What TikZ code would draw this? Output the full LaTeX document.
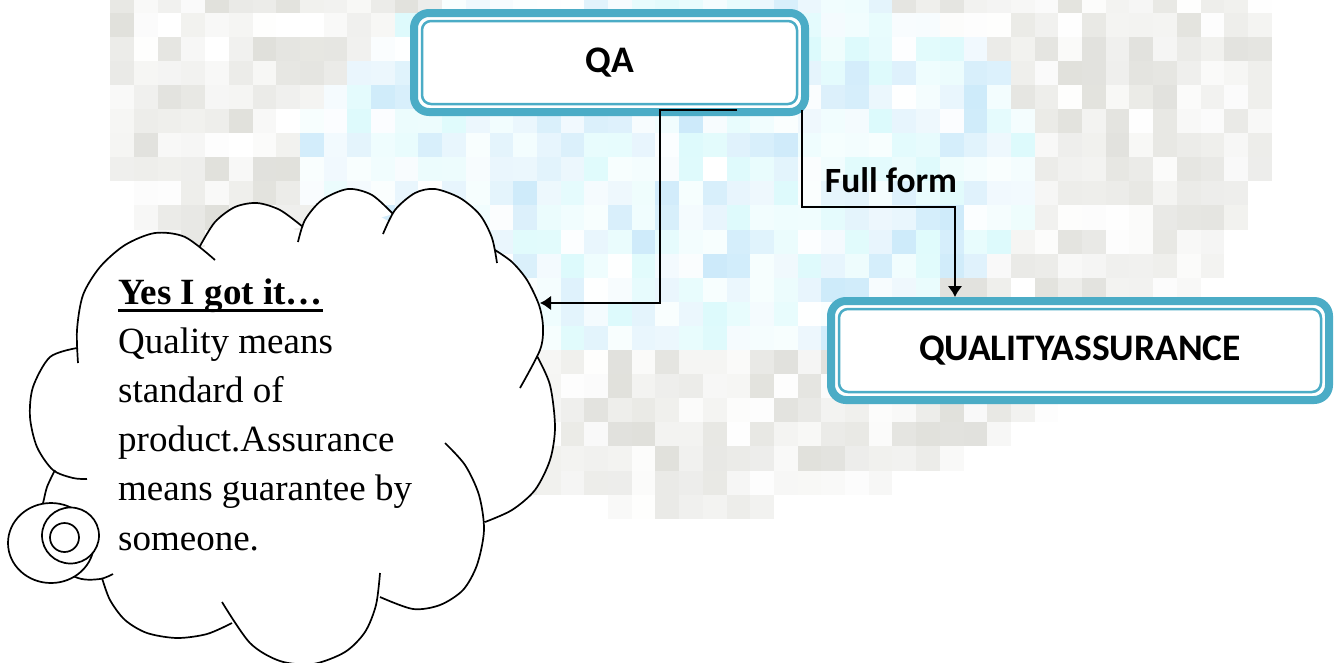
\documentclass[tikz,border=0pt]{standalone}
\usepackage{fontspec}
\setmainfont{Liberation Serif}
\newfontfamily\boxfont{Carlito}
\usepackage{tikz}
\usetikzlibrary{arrows.meta}

\definecolor{frame}{RGB}{75,172,198}
\definecolor{mosblue}{RGB}{204,234,250}
\definecolor{moscyan}{RGB}{220,250,252}
\definecolor{mosgray}{RGB}{224,224,219}
\newcommand\lineunder[1]{\setbox0\hbox{#1}\rlap{\vrule width\wd0 height -4.5pt depth 7.5pt}\box0}

\begin{document}
\begin{tikzpicture}[x=1pt,y=-1pt,
	titlebox/.style={draw=frame,line width=8pt,rounded corners=15pt,fill=white,
		inner sep=0pt,outer sep=0pt,minimum height=99pt,
		font=\boxfont\bfseries\fontsize{37.5}{44}\selectfont},
	boxinner/.style={draw=frame,line width=2.5pt,rounded corners=9pt},
	link/.style={line width=2.2pt,-{Latex[length=11pt,width=15pt]}},
	cloudline/.style={line width=1.7pt},
	formlabel/.style={inner sep=0pt,font=\boxfont\bfseries\fontsize{35.5}{42}\selectfont},
	cloudtext/.style={inner sep=0pt,align=left,font=\fontsize{37}{49.2}\selectfont}]
	\useasboundingbox (0,0) rectangle (1335,662);
	\clip (0,0) rectangle (1335,662);
%	\draw[help lines] (0,0) grid[step=100pt] (1335,662);

	% faded mosaic behind everything
	\pgfmathsetseed{11}
	\foreach \i in {0,...,54}{
		\foreach \j in {0,...,21}{
			\pgfmathsetmacro\cx{27.35+23.7*\i}
			\pgfmathsetmacro\cy{0.55+24.1*\j}
			\pgfmathsetmacro\ox{(\cx-690)/585}
			\pgfmathsetmacro\oy{(\cy-70)/440}
			\pgfmathsetmacro\bx{(\cx-670)/370}
			\pgfmathsetmacro\by{(\cy-160)/200}
			\pgfmathtruncatemacro\inside{\ox*\ox+\oy*\oy<1}
			\pgfmathtruncatemacro\core{\bx*\bx+\by*\by<1}
			\pgfmathtruncatemacro\tint{rnd<0.5}
			\pgfmathtruncatemacro\pct{100*rnd}
			\ifnum\inside=1
				\ifnum\core=1
					\ifnum\tint=1
						\fill[mosblue!\pct!white] (\cx-11.85,\cy-12.05) rectangle +(23.7,24.1);
					\else
						\fill[moscyan!\pct!white] (\cx-11.85,\cy-12.05) rectangle +(23.7,24.1);
					\fi
				\else
					\fill[mosgray!\pct!white] (\cx-11.85,\cy-12.05) rectangle +(23.7,24.1);
				\fi
			\fi
		}
	}

	% thought cloud
	\fill[white] (40,417) -- (76,352) -- (120,258) -- (204,247) -- (255,212) -- (300,232)
		-- (348,198) -- (388,221) -- (437,198) -- (497,254) -- (532,325) -- (540,362)
		-- (545,427) -- (489,520) -- (470,560) -- (380,594) -- (310,654) -- (228,616)
		-- (170,629) -- (103,581) -- (45,535) -- (52,470) -- cycle;
	\filldraw[cloudline,fill=white]
		plot[smooth] coordinates {(87,479) (73,478) (53,470) (37,447) (30,417) (33,387) (50,357) (77,348)}
		plot[smooth] coordinates {(78,363) (77,330) (83,295) (100,267) (125,245) (155,233) (185,237) (215,260)}
		plot[smooth] coordinates {(200,246) (215,222) (235,207) (257,203) (280,210) (303,227)}
		plot[smooth] coordinates {(298,242) (305,220) (322,200) (348,189) (372,195) (393,214)}
		plot[smooth] coordinates {(383,234) (395,210) (415,193) (435,189) (460,198) (480,215) (492,238) (497,263)}
		plot[smooth] coordinates {(495,250) (512,262) (527,280) (539,305) (543,327) (540,350) (520,388)}
		plot[smooth] coordinates {(537,356) (550,385) (555,427) (550,460) (535,490) (512,510) (485,522)}
		plot[smooth] coordinates {(445,443) (465,465) (479,495) (484,530) (477,565) (463,590) (440,605) (413,609) (380,597)}
		plot[smooth] coordinates {(380,573) (376,605) (365,632) (345,652) (313,664) (280,661) (250,643) (222,602)}
		plot[smooth] coordinates {(232,623) (207,634) (177,638) (147,633) (125,620) (110,600) (102,578)}
		plot[smooth] coordinates {(113,574) (100,579) (78,578) (45,560) (35,530) (43,503) (47,487) (55,470)};
	\filldraw[cloudline,fill=white] (51,543) ellipse [x radius=43pt,y radius=40pt];
	\filldraw[cloudline,fill=white] (70.5,535.5) ellipse [x radius=28.5pt,y radius=28pt];
	\draw[cloudline] (64.5,537.5) circle [radius=14.5pt];
	\node[cloudtext,anchor=base west] (gotit) at (118,550)
		{\lineunder{\textbf{Yes I got it…}}\\Quality means\\standard of\\product.Assurance\\means guarantee by\\someone.};

	% boxes
	\node[titlebox,minimum width=391pt] (qa) at (609.5,62.5) {QA};
	\draw[boxinner] ([xshift=8pt,yshift=-8pt]qa.north west) rectangle ([xshift=-8pt,yshift=8pt]qa.south east);
	\node[titlebox,minimum width=498pt] (qas) at (1080,350.5) {QUALITYASSURANCE};
	\draw[boxinner] ([xshift=8pt,yshift=-8pt]qas.north west) rectangle ([xshift=-8pt,yshift=8pt]qas.south east);

	% connectors
	\path (737,110) coordinate (qafoot);
	\path (802,110) coordinate (qatap);
	\path (540,303) coordinate (cloudin);
	\path (955,297) coordinate (qasin);
	\draw[link] (qafoot) -- ++(-77,0) |- (cloudin);
	\draw[link] (qatap) -- ++(0,97) -| (qasin);
	\node[formlabel] (fullform) at (891,180) {Full form};
\end{tikzpicture}
\end{document}
